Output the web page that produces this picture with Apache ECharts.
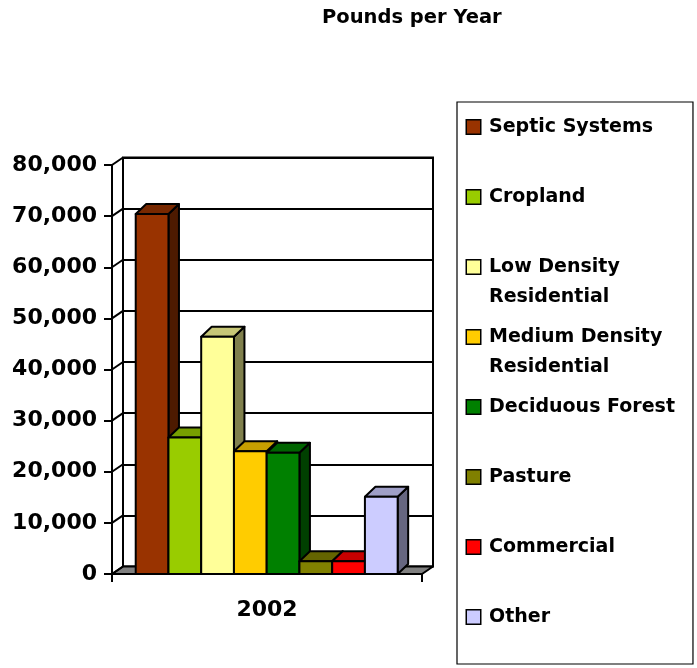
<!DOCTYPE html>
<html>
<head>
<meta charset="utf-8">
<title>Pounds per Year</title>
<script src="https://cdn.jsdelivr.net/npm/echarts@6/dist/echarts.min.js"></script>
<style>
  html, body { margin: 0; padding: 0; background: #fff; }
  #chart { width: 697px; height: 668px; }
</style>
</head>
<body>
<div id="chart"></div>
<script>
// Loads by source, pounds per year
const years = ['2002'];
const sources = [
  'Septic Systems',
  'Cropland',
  'Low Density Residential',
  'Medium Density Residential',
  'Deciduous Forest',
  'Pasture',
  'Commercial',
  'Other'
];
const loads = [70400, 26700, 46400, 24000, 23700, 2500, 2500, 15100];
const yTicks = [0, 10000, 20000, 30000, 40000, 50000, 60000, 70000, 80000];

// Front colour of each source; top and side faces are darker shades of it
const palette = ['#993300', '#99CC00', '#FFFF99', '#FFCC00', '#008000', '#808000', '#FF0000', '#CCCCFF'];

// Pseudo-3D geometry (pixels)
const FRONT = { left: 112, top: 165, width: 310, height: 409 };
const WALL_DX = 11, WALL_DY = -7.5;   // depth of the back wall
const BAR_DX = 10.5, BAR_DY = -10;    // depth of each column
const BAR_START = 0.0765;             // gap before the first column, share of the band
const BAR_SPAN = 0.845;               // share of the band taken by all columns

const FONT = 'DejaVu Sans';

function shade(hex, k) {
  const n = parseInt(hex.slice(1), 16);
  const r = Math.round(((n >> 16) & 255) * k);
  const g = Math.round(((n >> 8) & 255) * k);
  const b = Math.round((n & 255) * k);
  return 'rgb(' + r + ',' + g + ',' + b + ')';
}

const outline = { stroke: '#000', lineWidth: 2, lineJoin: 'round' };

// Floor and the short connectors from the front axis to the back wall
const frameSeries = {
  type: 'custom',
  name: '__frame',
  xAxisIndex: 0,
  yAxisIndex: 0,
  silent: true,
  z: 1,
  encode: { x: 0, y: 1 },
  data: yTicks.map(v => [years[0], v]),
  renderItem: (params, api) => {
    const v = api.value(1);
    const p = api.coord([api.value(0), v]);
    const band = api.size([1, 0])[0];
    const xl = p[0] - band / 2, xr = p[0] + band / 2;
    const children = [];
    if (v === yTicks[0]) {
      children.push({
        type: 'polygon',
        shape: { points: [[xl, p[1]], [xl + WALL_DX, p[1] + WALL_DY], [xr + WALL_DX, p[1] + WALL_DY], [xr, p[1]]] },
        style: Object.assign({ fill: '#808080' }, outline)
      });
    }
    children.push({
      type: 'line',
      shape: { x1: xl, y1: p[1], x2: xl + WALL_DX, y2: p[1] + WALL_DY },
      style: { stroke: '#000', lineWidth: 2 }
    });
    return { type: 'group', children: children };
  }
};

// One 3D column per source
const barSeries = sources.map((name, i) => ({
  type: 'custom',
  name: name,
  xAxisIndex: 0,
  yAxisIndex: 0,
  z: 3,
  itemStyle: { color: palette[i] },
  encode: { x: 0, y: 1 },
  data: [[years[0], loads[i]]],
  renderItem: (params, api) => {
    const c = api.value(0);
    const top = api.coord([c, api.value(1)]);
    const base = api.coord([c, 0]);
    const band = api.size([1, 0])[0];
    const bw = band * BAR_SPAN / sources.length;
    const x0 = base[0] - band / 2 + band * BAR_START + i * bw;
    const x1 = x0 + bw;
    const yt = top[1], yb = base[1];
    return {
      type: 'group',
      children: [
        {
          type: 'polygon',
          shape: { points: [[x1, yt], [x1 + BAR_DX, yt + BAR_DY], [x1 + BAR_DX, yb + BAR_DY], [x1, yb]] },
          style: Object.assign({ fill: shade(palette[i], 0.5) }, outline)
        },
        {
          type: 'polygon',
          shape: { points: [[x0, yt], [x0 + BAR_DX, yt + BAR_DY], [x1 + BAR_DX, yt + BAR_DY], [x1, yt]] },
          style: Object.assign({ fill: shade(palette[i], 0.78) }, outline)
        },
        {
          type: 'rect',
          shape: { x: x0, y: yt, width: bw, height: yb - yt },
          style: Object.assign({ fill: palette[i] }, outline)
        }
      ]
    };
  }
}));

// Legend markers as rich-text boxes so that two-line names keep the box on the first line
const legendRich = { gap: { width: 9 }, indent: { width: 22 } };
palette.forEach((col, i) => {
  legendRich['m' + i] = { width: 13, height: 13, backgroundColor: col, borderColor: '#000', borderWidth: 1.5 };
});

function legendLabel(name) {
  const i = sources.indexOf(name);
  const words = name.split(' ');
  const lines = words.length > 2
    ? [words.slice(0, -1).join(' '), words[words.length - 1]]
    : [name, ' '];
  return '{m' + i + '|}{gap|}' + lines[0] + '\n{indent|}' + lines[1];
}

const option = {
  backgroundColor: '#fff',
  animation: false,
  title: {
    text: 'Pounds per Year',
    left: 322,
    top: 8,
    padding: 0,
    textStyle: { fontFamily: FONT, fontWeight: 'bold', fontSize: 19.5, color: '#000' }
  },
  legend: {
    data: sources,
    orient: 'vertical',
    left: 457,
    top: 102,
    padding: [10, 18, 2, 5],
    icon: 'none',
    itemWidth: 0,
    itemHeight: 14,
    itemGap: 10,
    selectedMode: false,
    backgroundColor: '#fff',
    borderColor: '#000',
    borderWidth: 1.2,
    formatter: legendLabel,
    textStyle: {
      fontFamily: FONT,
      fontWeight: 'bold',
      fontSize: 19,
      color: '#000',
      lineHeight: 30,
      rich: legendRich
    }
  },
  grid: [
    { left: FRONT.left, top: FRONT.top, width: FRONT.width, height: FRONT.height },
    {
      left: FRONT.left + WALL_DX, top: FRONT.top + WALL_DY, width: FRONT.width, height: FRONT.height,
      show: true, borderColor: '#000', borderWidth: 2, backgroundColor: 'transparent'
    }
  ],
  xAxis: [
    {
      type: 'category',
      gridIndex: 0,
      data: years,
      axisLine: { lineStyle: { color: '#000', width: 2 } },
      axisTick: { show: true, length: 8, lineStyle: { color: '#000', width: 2 } },
      axisLabel: { margin: 25, fontFamily: FONT, fontWeight: 'bold', fontSize: 22, color: '#000' },
      splitLine: { show: false }
    },
    {
      type: 'category',
      gridIndex: 1,
      data: years,
      axisLine: { show: false },
      axisTick: { show: false },
      axisLabel: { show: false },
      splitLine: { show: false }
    }
  ],
  yAxis: [
    {
      type: 'value',
      gridIndex: 0,
      min: yTicks[0],
      max: yTicks[yTicks.length - 1],
      interval: yTicks[1] - yTicks[0],
      axisLine: { show: true, lineStyle: { color: '#000', width: 2 } },
      axisTick: { show: true, length: 8, lineStyle: { color: '#000', width: 2 } },
      axisLabel: {
        margin: 15,
        fontFamily: FONT,
        fontWeight: 'bold',
        fontSize: 22,
        color: '#000',
        formatter: v => v.toLocaleString('en-US')
      },
      splitLine: { show: false }
    },
    {
      type: 'value',
      gridIndex: 1,
      min: yTicks[0],
      max: yTicks[yTicks.length - 1],
      interval: yTicks[1] - yTicks[0],
      axisLine: { show: false },
      axisTick: { show: false },
      axisLabel: { show: false },
      splitLine: { show: true, lineStyle: { color: '#000', width: 2 } }
    }
  ],
  series: [frameSeries].concat(barSeries)
};

const chart = echarts.init(document.getElementById('chart'), null, { renderer: 'canvas' });
chart.setOption(option);
</script>
</body>
</html>
